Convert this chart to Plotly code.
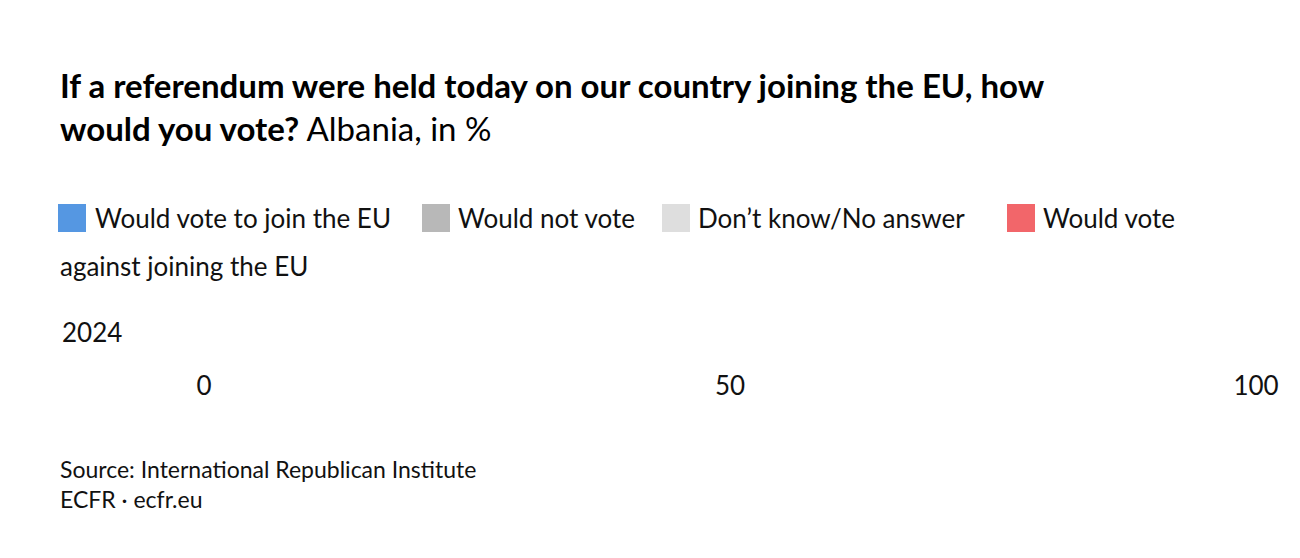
import plotly.graph_objects as go

years = ["2024"]
series = ["Would vote to join the EU", "Would not vote", "Don’t know/No answer",
          "Would vote against joining the EU"]
values = [[92], [4], [1], [3]]
labels = [["92"], ["4"], [""], [""]]
colors = ["#5597e2", "#b8b8b8", "#dedede", "#f2666a"]
text_colors = ["white", "#333333", "#333333", "#333333"]

FONT = "Lato"
L, R, T, B = 196, 52, 306, 198
PW, PH = 1300 - L - R, 558 - T - B


def px(x):
    return (x - L) / PW


def py(y):
    return (558 - B - y) / PH


fig = go.Figure()
for name, v, t, c, tc in zip(series, values, labels, colors, text_colors):
    fig.add_trace(go.Bar(
        x=v, y=years, name=name, orientation="h", marker_color=c,
        marker_line_color="white", marker_line_width=2,
        text=t, textposition="inside", insidetextanchor="start",
        textfont=dict(color=tc, size=26, family=FONT), hoverinfo="skip",
    ))

fig.update_layout(
    barmode="stack", bargap=0, showlegend=False,
    width=1300, height=558, plot_bgcolor="white", paper_bgcolor="white",
    margin=dict(l=L, r=R, t=T, b=B, autoexpand=False),
    font=dict(family=FONT, color="#111111", size=26),
    xaxis=dict(range=[0, 100], tickvals=[0, 50, 100], showgrid=False, zeroline=False,
               tickfont=dict(size=26), ticks="", showline=False),
    yaxis=dict(showticklabels=False, showgrid=False),
)

fig.add_annotation(
    text="<b>If a referendum were held today on our country joining the EU, how<br>"
         "would you vote?</b> Albania, in %",
    xref="paper", yref="paper", x=px(50), y=py(55), xanchor="left", yanchor="top",
    align="left", showarrow=False, font=dict(size=33, color="#000000"))

# legend drawn by hand so it wraps like the reference
legend_pos = [(50, 85, 210), (414, 448, 210), (654, 688, 210), (999, 1033, 210)]
legend_text = ["Would vote to join the EU", "Would not vote", "Don’t know/No answer",
               "Would vote"]
for (sx, tx, ly), c, txt in zip(legend_pos, colors, legend_text):
    fig.add_shape(type="rect", xref="paper", yref="paper", x0=px(sx), x1=px(sx + 28),
                  y0=py(ly + 14), y1=py(ly - 14), fillcolor=c, line_width=0)
    fig.add_annotation(text=txt, xref="paper", yref="paper", x=px(tx), y=py(ly),
                       xanchor="left", yanchor="middle", showarrow=False)
fig.add_annotation(text="against joining the EU", xref="paper", yref="paper",
                   x=px(50), y=py(258), xanchor="left", yanchor="middle", showarrow=False)

fig.add_annotation(text="2024", xref="paper", yref="y", x=px(52), y="2024",
                   xanchor="left", showarrow=False)
fig.add_annotation(text="Source: International Republican Institute<br>ECFR · ecfr.eu",
                   xref="paper", yref="paper", x=px(50), y=py(445),
                   xanchor="left", yanchor="top", align="left", showarrow=False,
                   font=dict(size=23))
fig.write_html("out.html")
